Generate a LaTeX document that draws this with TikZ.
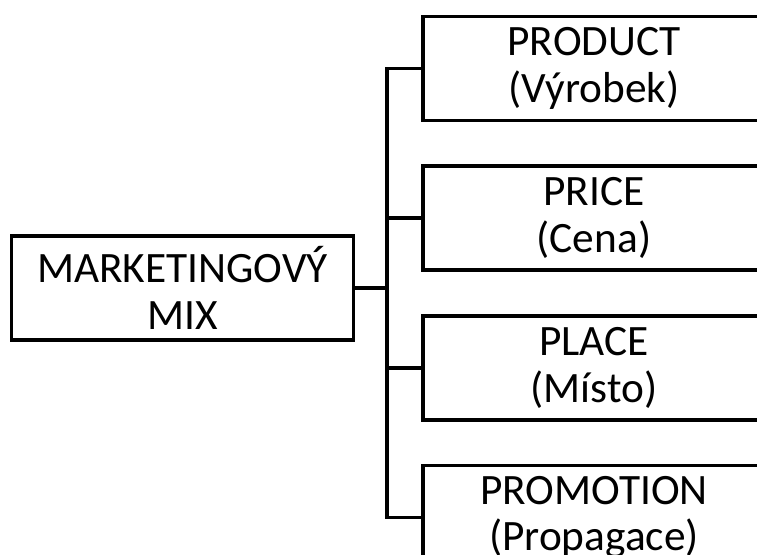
\documentclass[tikz,border=0pt]{standalone}
\usepackage{fontspec}
\setmainfont{Carlito}
\usetikzlibrary{positioning}

\begin{document}
\begin{tikzpicture}[
  x=0.75pt,y=-0.75pt,
  node distance=31.5pt,
  part/.style={draw,line width=2.7pt,align=center,minimum width=256.5pt,minimum height=78pt,inner sep=0pt,font=\fontsize{32.5}{35}\selectfont},
  link/.style={line width=2.7pt}
]
\useasboundingbox (0,0) rectangle (757,554);
\clip (0,0) rectangle (757,554);
\node[part] (mix) at (182.5,288) {MARKETINGOVÝ\\MIX};
\node[part] (product) at (594,68.5) {PRODUCT\\(Výrobek)};
\node[part,below=of product] (price) {PRICE\\(Cena)};
\node[part,below=of price] (place) {PLACE\\(Místo)};
\node[part,below=of place] (promotion) {PROMOTION\\(Propagace)};
\coordinate (trunk) at (387,288);
\draw[link] (mix.east) -- (trunk);
\draw[link] (product.west) -| (trunk);
\draw[link] (price.west) -| (trunk);
\draw[link] (place.west) -| (trunk);
\draw[link] (promotion.west) -| (trunk);
\end{tikzpicture}
\end{document}
